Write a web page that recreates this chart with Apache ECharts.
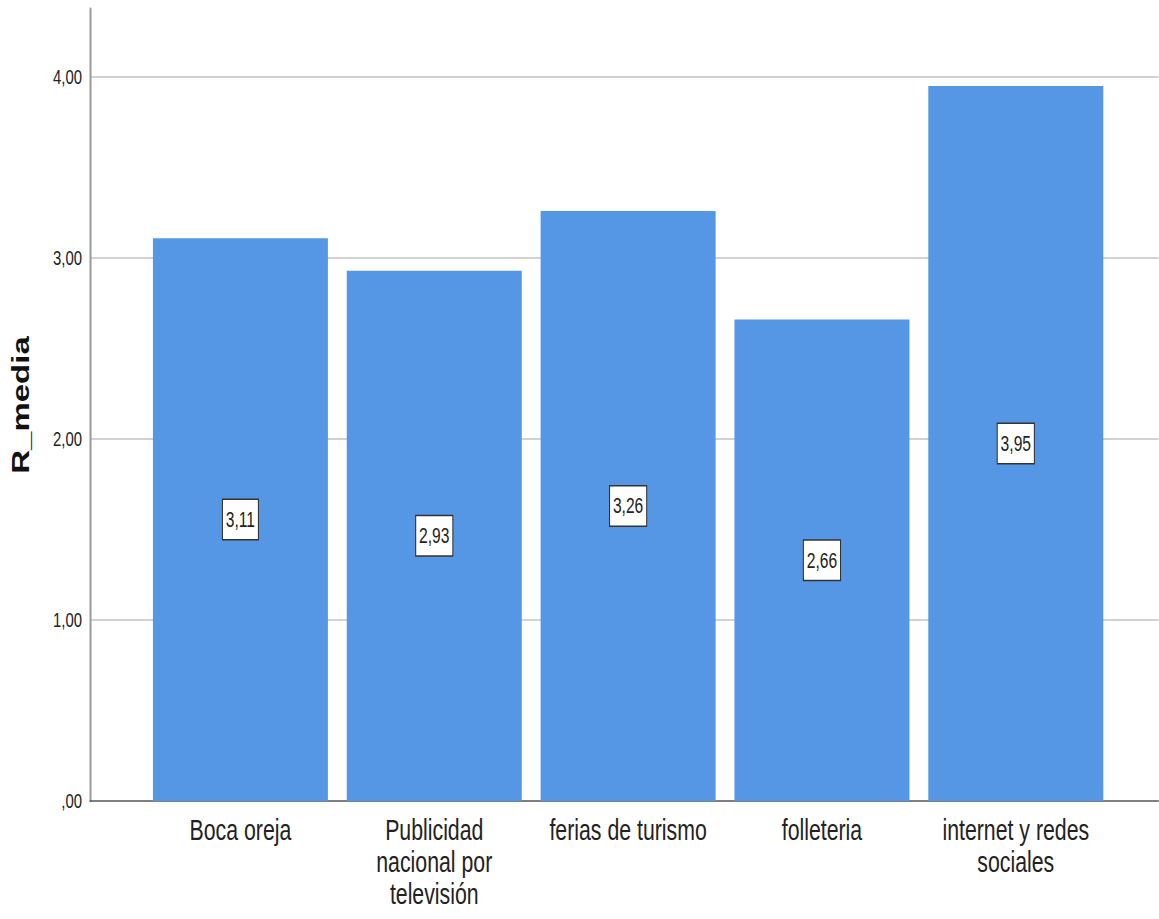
<!DOCTYPE html>
<html>
<head>
<meta charset="utf-8">
<script src="https://cdn.jsdelivr.net/npm/echarts@6/dist/echarts.min.js"></script>
<style>
  html, body { margin: 0; padding: 0; background: #fff; overflow: hidden; }
  #frame { width: 1159px; height: 919px; overflow: hidden; position: relative; }
  /* the chart is laid out wide and squeezed horizontally for a condensed look */
  #chart { position: absolute; left: 0; top: 0; height: 919px; transform-origin: 0 0; }
</style>
</head>
<body>
<div id="frame"><div id="chart"></div></div>
<script>
// Mean rating (R_media) per information channel
const categories = [
  'Boca oreja',
  'Publicidad\nnacional por\ntelevisión',
  'ferias de turismo',
  'folleteria',
  'internet y redes\nsociales'
];
const values = [3.11, 2.93, 3.26, 2.66, 3.95];
const axisName = 'R_media';
const yMin = 0;
const yMax = 4.376;
const yStep = 1;

// horizontal squeeze factor; layout values below are given in page pixels
const SX = 0.71;
const W = 1159;
const px = v => v / SX;

const FONT = "'Liberation Sans', Arial, sans-serif";

// Decimal comma, SPSS style: 0 -> ",00", 3.11 -> "3,11"
function fmt(v) {
  let s = Number(v).toFixed(2).replace('.', ',');
  if (s.startsWith('0,')) s = s.slice(1);
  return s;
}

const el = document.getElementById('chart');
el.style.width = px(W) + 'px';
el.style.transform = 'scaleX(' + SX + ')';

const chart = echarts.init(el, null, { renderer: 'svg' });
chart.setOption({
  backgroundColor: '#ffffff',
  animation: false,
  grid: [
    // frame: value axis, gridlines and baseline across the full width
    { left: px(90), right: 0, top: 9, bottom: 118 },
    // bars, inset on both sides
    { left: px(143.5), right: px(46), top: 9, bottom: 118 }
  ],
  xAxis: [
    {
      gridIndex: 0, type: 'value', min: 0, max: 1,
      axisLine: { show: true, lineStyle: { color: '#555', width: 1.5 } },
      axisTick: { show: false }, axisLabel: { show: false }, splitLine: { show: false }
    },
    {
      gridIndex: 1, type: 'category', data: categories,
      axisLine: { show: false }, axisTick: { show: false },
      axisLabel: {
        interval: 0, margin: 13,
        fontFamily: FONT, fontSize: 30, lineHeight: 32, color: '#222', align: 'center'
      }
    }
  ],
  yAxis: [
    {
      gridIndex: 0, type: 'value', min: yMin, max: yMax, interval: yStep,
      name: axisName, nameLocation: 'middle', nameGap: px(57), nameRotate: 90,
      nameTextStyle: { fontFamily: FONT, fontWeight: 'bold', fontSize: 33, color: '#111' },
      axisLine: { show: true, lineStyle: { color: '#9a9a9a', width: px(2) } },
      axisTick: { show: false },
      axisLabel: {
        margin: px(8), fontFamily: FONT, fontSize: 21, color: '#222',
        formatter: v => (Math.abs(v - Math.round(v)) < 1e-9 ? fmt(v) : '')
      },
      splitLine: { show: true, showMaxLine: false, showMinLine: false, lineStyle: { color: '#d2d2d2', width: 2 } }
    },
    {
      gridIndex: 1, type: 'value', min: yMin, max: yMax, interval: yStep, show: false,
      splitLine: { show: false }
    }
  ],
  series: [
    {
      type: 'bar', xAxisIndex: 1, yAxisIndex: 1,
      data: values, barWidth: px(175),
      itemStyle: { color: '#5596e5' },
      label: {
        show: true, position: 'inside',
        formatter: p => fmt(p.value),
        fontFamily: FONT, fontSize: 22, lineHeight: 22, color: '#222',
        backgroundColor: '#ffffff', borderColor: '#333', borderWidth: 1.5,
        padding: [9, 4, 8, 4]
      }
    }
  ]
});
</script>
</body>
</html>
